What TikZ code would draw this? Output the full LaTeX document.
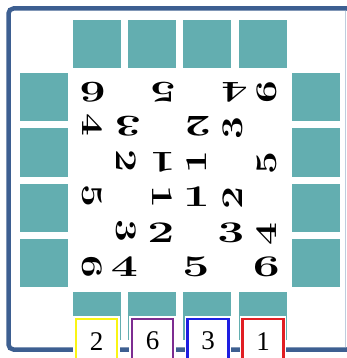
\documentclass[tikz,border=0pt]{standalone}
\usepackage{fontspec}
\usepackage{tikz}
\newfontfamily\boxfont{Liberation Serif}

\definecolor{frameblue}{RGB}{61,95,145}
\definecolor{framelight}{RGB}{190,205,222}
\definecolor{tealsq}{RGB}{99,174,176}
\definecolor{boxyellow}{RGB}{250,245,20}
\definecolor{boxpurple}{RGB}{125,45,145}
\definecolor{boxblue}{RGB}{30,30,225}
\definecolor{boxred}{RGB}{225,30,35}

\tikzset{
  tile/.style={fill=tealsq, draw=none, minimum size=48pt, inner sep=0pt},
  digit/.style={font=\fontsize{30}{30}\selectfont\bfseries, inner sep=0pt},
  numbox/.style={draw=#1, fill=white, line width=2.2pt, minimum width=41pt,
    minimum height=44pt, inner sep=0pt, anchor=north,
    font=\boxfont\fontsize{27}{27}\selectfont,
    preaction={draw=white, line width=5.5pt}}
}

\begin{document}
\begin{tikzpicture}[x=1pt, y=-1pt]

    \useasboundingbox (0,0) rectangle (347,358);
    \clip (0,0) rectangle (347,358);

    % Frame
    \draw[frameblue, line width=4.5pt, rounded corners=5pt] (8.5,8.5) rectangle (352,349.5);
    \draw[framelight, line width=0.8pt] (345.5,11) -- (345.5,347);

    % Teal tiles round the board
    \foreach \i/\c in {1/97,2/152,3/207,4/262.5} {
        \node[tile] (top\i) at (\c,44.5) {};
        \node[tile] (bot\i) at (\c,315.5) {};
        \node[tile] (left\i) at (44,\c+0.5) {};
        \node[tile] (right\i) at (316,\c+0.5) {};
    }

    % Digits, one quarter turn per side (sides facing down/up are wider)
    \foreach \a/\w in {0/1.6,90/1.35,180/1.55,270/1.35} {
        \begin{scope}[shift={(179.5,179.5)}, rotate=\a, transform shape]
            \node[digit, xscale=\w] (four-\a) at (-55,87) {4};
            \node[digit, xscale=\w] (five-\a) at (16.5,87) {5};
            \node[digit, xscale=\w] (six-\a) at (87,87) {6};
            \node[digit, xscale=\w] (two-\a) at (-18.5,53.5) {2};
            \node[digit, xscale=\w] (three-\a) at (51.5,53.5) {3};
            \node[digit, xscale=\w] (one-\a) at (17,17) {1};
        \end{scope}
    }

    % Numbered boxes below the bottom tiles
    \node[numbox=boxyellow] (box2) at (96.5,318) {2};
    \node[numbox=boxpurple] (box6) at (152.5,318) {6};
    \node[numbox=boxblue] (box3) at (208,318) {3};
    \node[numbox=boxred] (box1) at (263,318) {1};

\end{tikzpicture}
\end{document}
